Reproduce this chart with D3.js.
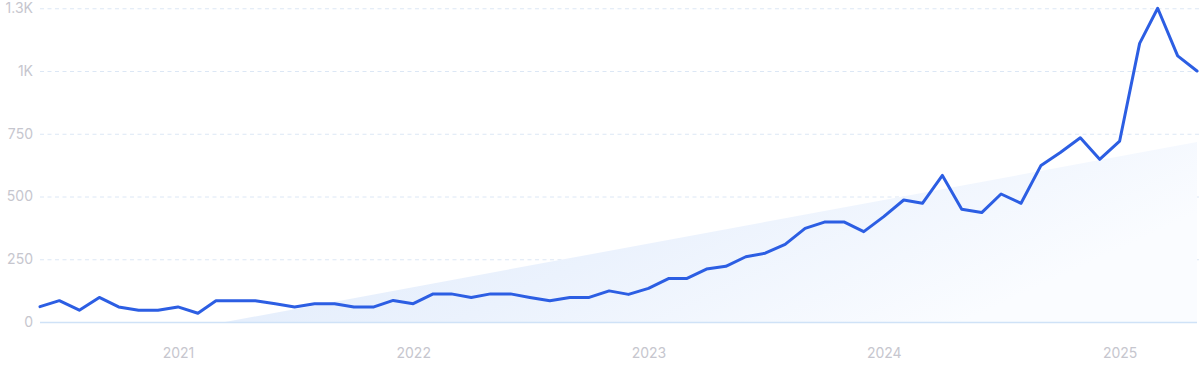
<!DOCTYPE html>
<html lang="en">
<head>
    <meta charset="UTF-8">
    <title>trend</title>
    <script src="https://d3js.org/d3.v7.min.js"></script>
    <style>
        body { margin: 0; background: #fff; }
        svg { display: block; }
        .tick text { font-family: Inter, 'Open Sans', sans-serif; font-size: 14px; fill: #c6c6ce; }
        .grid line { stroke: #dce7f5; stroke-dasharray: 4,3.5; }
        .domain { display: none; }
    </style>
</head>
<body>
<script>
    // monthly values, Jun 2020 .. May 2025
    var startMonth = "2020-06";
    var values = [
        61, 85, 47, 98, 60, 47, 47, 60, 35, 85,
        85, 85, 73, 60, 73, 73, 60, 60, 86, 73,
        112, 112, 98, 112, 112, 98, 85, 98, 98, 124,
        110, 134, 173, 173, 211, 222, 260, 274, 309, 373,
        398, 398, 360, 420, 486, 473, 584, 449, 436, 510,
        473, 624, 675, 734, 648, 721, 1110, 1250, 1060, 1000
    ];
    // trend line end points (area under it is shaded)
    var trendDates = ["2021-03-15", "2025-05-01"];
    var trendValues = [0, 717];

    var yTicks = [0, 250, 500, 750, 1000, 1250];
    var yLabels = ["0", "250", "500", "750", "1K", "1.3K"];
    var xTicks = ["2021-01-01", "2022-01-01", "2023-01-01", "2024-01-01", "2025-01-01"];

    var width = 1200, height = 371;
    var parse = d3.timeParse("%Y-%m-%d");
    var first = d3.timeParse("%Y-%m")(startMonth);
    var data = values.map(function (v, i) {
        return { date: d3.timeMonth.offset(first, i), value: v };
    });

    var x = d3.scaleTime()
        .domain(d3.extent(data, d => d.date))
        .range([40, 1197]);
    var y = d3.scaleLinear()
        .domain([0, 1250])
        .range([322, 8.25]);

    var svg = d3.select("body").append("svg")
        .attr("width", width)
        .attr("height", height);

    var defs = svg.append("defs");
    var grad = defs.append("linearGradient")
        .attr("id", "trendFill")
        .attr("x1", "0").attr("y1", "0")
        .attr("x2", "1").attr("y2", "0.4");
    grad.append("stop").attr("offset", "0").attr("stop-color", "#dde9fa");
    grad.append("stop").attr("offset", "0.55").attr("stop-color", "#ebf2fd");
    grad.append("stop").attr("offset", "1").attr("stop-color", "#fafcff");

    // grid + y labels
    var yAxis = d3.axisLeft(y)
        .tickValues(yTicks.slice(1))
        .tickFormat((d, i) => yLabels[i + 1])
        .tickSize(-1160)
        .tickPadding(7);
    svg.append("g")
        .attr("class", "grid")
        .attr("transform", "translate(40,0)")
        .call(yAxis)
        .call(g => g.selectAll(".tick text").attr("x", -7));

    // trend area
    var trend = trendDates.map((d, i) => ({ date: parse(d), value: trendValues[i] }));
    svg.append("path")
        .datum(trend)
        .attr("fill", "url(#trendFill)")
        .attr("d", d3.area()
            .x(d => x(d.date))
            .y0(y(0))
            .y1(d => y(d.value)));

    // zero line
    var zeroAxis = d3.axisLeft(y)
        .tickValues([0])
        .tickFormat(() => yLabels[0])
        .tickSize(-1157)
        .tickPadding(7);
    svg.append("g")
        .attr("transform", "translate(40,0)")
        .call(zeroAxis)
        .call(g => g.selectAll(".tick line").attr("stroke", "#cfe2f7").attr("stroke-width", 1.5))
        .call(g => g.selectAll(".tick text").attr("x", -7));

    // x axis
    var xAxis = d3.axisBottom(x)
        .tickValues(xTicks.map(parse))
        .tickFormat(d3.timeFormat("%Y"))
        .tickSize(0)
        .tickPadding(26);
    svg.append("g")
        .attr("transform", "translate(0,322)")
        .call(xAxis);

    // line
    svg.append("path")
        .datum(data)
        .attr("fill", "none")
        .attr("stroke", "#2c5ee3")
        .attr("stroke-width", 3)
        .attr("stroke-linejoin", "round")
        .attr("stroke-linecap", "round")
        .attr("d", d3.line()
            .x(d => x(d.date))
            .y(d => y(d.value)));
</script>
</body>
</html>
